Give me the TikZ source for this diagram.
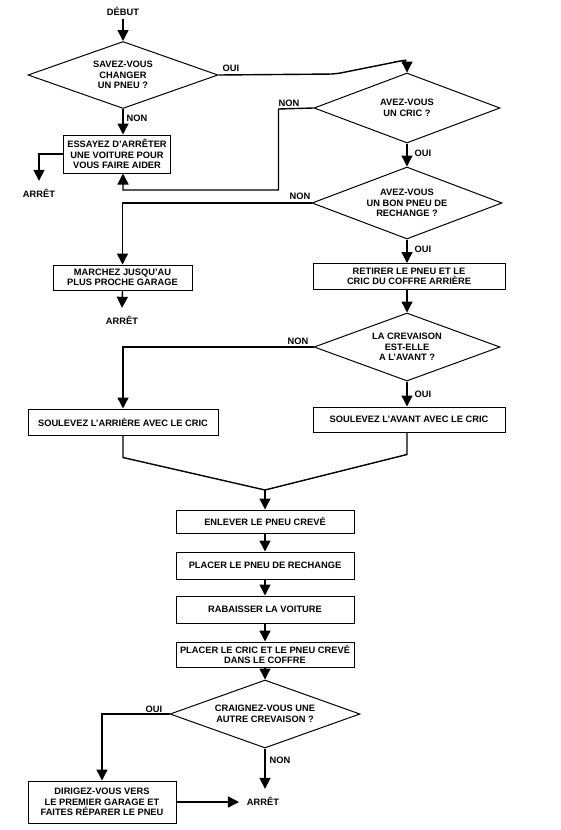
\documentclass[tikz,border=0pt]{standalone}
\usepackage{fontspec}
\setmainfont{Liberation Sans}
\usetikzlibrary{shapes.geometric,arrows.meta}
\begin{document}
\begin{tikzpicture}[x=1pt,y=-1pt,
  >={Triangle[width=11pt,length=11pt]},
  txt/.style={font=\fontsize{9.3}{10.5}\selectfont\bfseries, align=center, inner sep=0pt},
  box/.style={txt, draw, line width=1pt},
  dia/.style={txt, draw, diamond, line width=1pt, aspect=2.8},
  lab/.style={font=\fontsize{9.3}{10}\selectfont\bfseries, inner sep=0pt},
  stop/.style={lab, outer sep=8pt},
  flow/.style={line width=1.4pt}]
\useasboundingbox (0,0) rectangle (561,830);

% nodes
\node[lab, outer sep=4pt] (start) at (123,11) {DÉBUT};
\node[dia, minimum width=190pt, minimum height=67pt] (d1) at (123,75) {SAVEZ-VOUS\\CHANGER\\UN PNEU ?};
\node[dia, minimum width=186pt, minimum height=70pt] (d2) at (407,108) {AVEZ-VOUS\\UN CRIC ?};
\node[box, minimum width=107pt, minimum height=38pt] (b1) at (117,154) {ESSAYEZ D'ARRÊTER\\UNE VOITURE POUR\\VOUS FAIRE AIDER};
\node[stop] (s1) at (39,193) {ARRÊT};
\node[dia, minimum width=190pt, minimum height=72pt] (d3) at (407,203) {AVEZ-VOUS\\UN BON PNEU DE\\RECHANGE ?};
\node[box, minimum width=139pt, minimum height=25pt] (b2) at (122.5,277.5) {MARCHEZ JUSQU'AU\\PLUS PROCHE GARAGE};
\node[stop] (s2) at (122,320) {ARRÊT};
\node[box, minimum width=192pt, minimum height=26pt] (b3) at (409,276.5) {RETIRER LE PNEU ET LE\\CRIC DU COFFRE ARRIÈRE};
\node[dia, minimum width=186pt, minimum height=68pt] (d4) at (407,347) {LA CREVAISON\\EST-ELLE\\A L'AVANT ?};
\node[box, minimum width=190pt, minimum height=26pt] (b4) at (123,422) {SOULEVEZ L'ARRIÈRE AVEC LE CRIC};
\node[box, minimum width=192pt, minimum height=25pt] (b5) at (409,419.5) {SOULEVEZ L'AVANT AVEC LE CRIC};
\coordinate (m) at (265,490);
\node[box, minimum width=178pt, minimum height=23pt] (b6) at (265,521.5) {ENLEVER LE PNEU CREVÉ};
\node[box, minimum width=178pt, minimum height=27pt] (b7) at (265,565.5) {PLACER LE PNEU DE RECHANGE};
\node[box, minimum width=178pt, minimum height=27pt] (b8) at (265,609.5) {RABAISSER LA VOITURE};
\node[box, minimum width=178pt, minimum height=25pt] (b9) at (265,654.5) {PLACER LE CRIC ET LE PNEU CREVÉ\\DANS LE COFFRE};
\node[dia, minimum width=190pt, minimum height=68pt] (d5) at (265,714) {CRAIGNEZ-VOUS UNE\\AUTRE CREVAISON ?};
\node[box, minimum width=148pt, minimum height=42pt] (b10) at (102,802) {DIRIGEZ-VOUS VERS\\LE PREMIER GARAGE ET\\FAITES RÉPARER LE PNEU};
\node[stop] (s3) at (263,801) {ARRÊT};
\coordinate (c1) at (407,60);

% labels
\node[lab] (l1) at (231,68) {OUI};
\node[lab] (l2) at (137,118) {NON};
\node[lab] (l3) at (289,103) {NON};
\node[lab] (l4) at (423,153) {OUI};
\node[lab] (l5) at (300,196) {NON};
\node[lab] (l6) at (423,249) {OUI};
\node[lab] (l7) at (298,341) {NON};
\node[lab] (l8) at (423,394) {OUI};
\node[lab] (l9) at (154,709) {OUI};
\node[lab] (l10) at (280,760) {NON};

% connectors
\draw[flow,->] (start.south) -- (d1.north);
\draw[flow,->,rounded corners=6pt] (d1.east) -- ++(117,-1) -- ++(65,-13) -- (c1) -- (d2.north);
\draw[flow,->] (d1.south) -- (d1.south |- b1.north);
\draw[flow,->] (d2.west) -- ++(-35,1) -- ++(0,81) -| (d1.south |- b1.south);
\draw[flow,->] (b1.west) -| (s1.north);
\draw[flow,->] (d2.south) -- (d3.north);
\draw[flow,->] (d3.west) -| (b2.north);
\draw[flow,->] (b2.south) -- (s2.north);
\draw[flow,->] (d3.south) -- (d3.south |- b3.north);
\draw[flow,->] (d3.south |- b3.south) -- (d4.north);
\draw[flow,->] (d4.west) -| (b4.north);
\draw[flow,->] (d4.south) -- (d4.south |- b5.north);
\draw[flow] (b4.south) -- ++(0,22) -- (m);
\draw[flow] (d4.south |- b5.south) -- ++(0,22) -- (m);
\draw[flow,->] (m) -- (b6.north);
\draw[flow,->] (b6.south) -- (b7.north);
\draw[flow,->] (b7.south) -- (b8.north);
\draw[flow,->] (b8.south) -- (b9.north);
\draw[flow,->] (b9.south) -- (d5.north);
\draw[flow,->] (d5.west) -| (b10.north);
\draw[flow,->] (d5.south) -- (d5.south |- s3.north);
\draw[flow,->] (b10.east) -- (b10.east -| s3.west);
\end{tikzpicture}
\end{document}
